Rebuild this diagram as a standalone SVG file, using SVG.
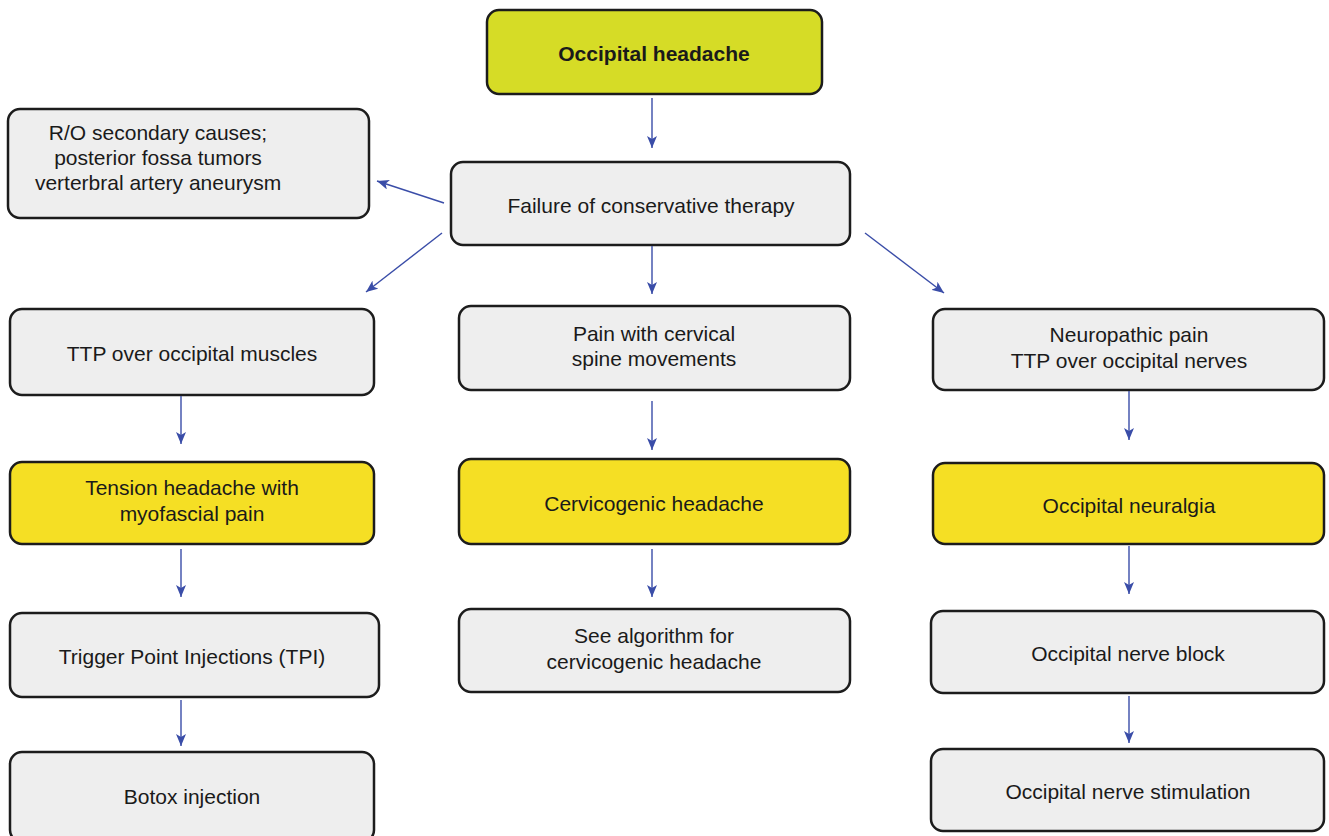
<svg xmlns="http://www.w3.org/2000/svg" width="1329" height="836" viewBox="0 0 1329 836">
<defs>
<style>
.box{stroke:#1c1c1c;stroke-width:2.5;}
.g{fill:#eeeeee;}
.y{fill:#f5df24;}
.t{fill:#d6dc26;}
text{font-family:"Liberation Sans",Arial,sans-serif;font-size:21px;fill:#1a1a1a;text-anchor:middle;}
.b{font-weight:bold;}
.c line{stroke:#3a4da8;stroke-width:1.4;marker-end:url(#ah);}
</style>
<marker id="ah" viewBox="0 0 12 10" refX="12" refY="5" markerWidth="12" markerHeight="10" markerUnits="userSpaceOnUse" orient="auto">
<path d="M0,0 L12,5 L0,10 L3,5 Z" fill="#3a4da8"/>
</marker>
</defs>
<rect width="1329" height="836" fill="#ffffff"/>
<g id="n1"><rect class="box t" x="487" y="10" width="335" height="84" rx="12"/><text class="b" x="654" y="61">Occipital headache</text></g>
<g id="n2"><rect class="box g" x="8" y="109" width="361" height="109" rx="12"/><text x="158" y="140">R/O secondary causes;</text><text x="158" y="165">posterior fossa tumors</text><text x="158" y="190">verterbral artery aneurysm</text></g>
<g id="n3"><rect class="box g" x="451" y="162" width="399" height="83" rx="12"/><text x="651" y="213">Failure of conservative therapy</text></g>
<g id="n4"><rect class="box g" x="10" y="309" width="364" height="86" rx="12"/><text x="192" y="361">TTP over occipital muscles</text></g>
<g id="n5"><rect class="box g" x="459" y="306" width="391" height="84" rx="12"/><text x="654" y="341">Pain with cervical</text><text x="654" y="366">spine movements</text></g>
<g id="n6"><rect class="box g" x="933" y="309" width="391" height="81" rx="12"/><text x="1129" y="342">Neuropathic pain</text><text x="1129" y="368">TTP over occipital nerves</text></g>
<g id="n7"><rect class="box y" x="10" y="462" width="364" height="82" rx="12"/><text x="192" y="495">Tension headache with</text><text x="192" y="521">myofascial pain</text></g>
<g id="n8"><rect class="box y" x="459" y="459" width="391" height="85" rx="12"/><text x="654" y="511">Cervicogenic headache</text></g>
<g id="n9"><rect class="box y" x="933" y="463" width="391" height="81" rx="12"/><text x="1129" y="513">Occipital neuralgia</text></g>
<g id="n10"><rect class="box g" x="10" y="613" width="369" height="84" rx="12"/><text x="192" y="664">Trigger Point Injections (TPI)</text></g>
<g id="n11"><rect class="box g" x="459" y="609" width="391" height="83" rx="12"/><text x="654" y="643">See algorithm for</text><text x="654" y="669">cervicogenic headache</text></g>
<g id="n12"><rect class="box g" x="931" y="611" width="393" height="82" rx="12"/><text x="1128" y="661">Occipital nerve block</text></g>
<g id="n13"><rect class="box g" x="10" y="752" width="364" height="90" rx="12"/><text x="192" y="804">Botox injection</text></g>
<g id="n14"><rect class="box g" x="931" y="749" width="393" height="82" rx="12"/><text x="1128" y="799">Occipital nerve stimulation</text></g>
<g id="connectors" class="c">
<line x1="652" y1="98" x2="652" y2="148"/>
<line x1="444" y1="203" x2="377" y2="181"/>
<line x1="442" y1="233" x2="366" y2="292"/>
<line x1="652" y1="246" x2="652" y2="294"/>
<line x1="865" y1="233" x2="944" y2="293"/>
<line x1="181" y1="396" x2="181" y2="444"/>
<line x1="652" y1="401" x2="652" y2="450"/>
<line x1="1129" y1="391" x2="1129" y2="440"/>
<line x1="181" y1="549" x2="181" y2="597"/>
<line x1="652" y1="549" x2="652" y2="597"/>
<line x1="1129" y1="546" x2="1129" y2="594"/>
<line x1="181" y1="700" x2="181" y2="746"/>
<line x1="1129" y1="696" x2="1129" y2="743"/>
</g>
</svg>
